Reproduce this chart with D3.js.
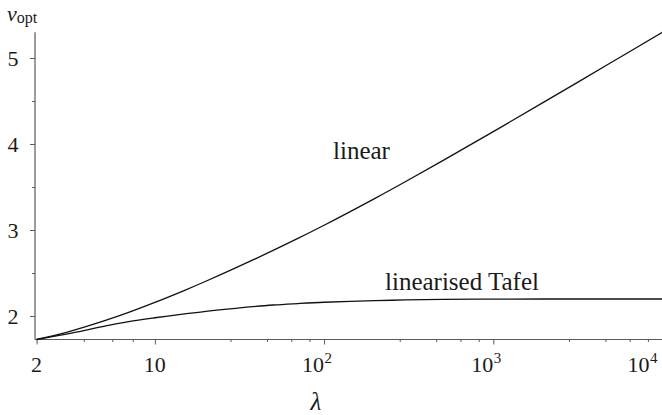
<!DOCTYPE html>
<html>
<head>
<meta charset="utf-8">
<script src="https://cdn.jsdelivr.net/npm/d3@7"></script>
<style>
  body { margin: 0; background: #fff; }
  svg { display: block; }
  text { font-family: "Liberation Serif", "DejaVu Serif", serif; fill: #1a1a1a; }
</style>
</head>
<body>
<svg id="chart" width="662" height="415"></svg>
<script>
// Optimal nu against lambda for the two kinetic models
const lambda   = [2, 3, 5, 7, 10, 15, 20, 30, 50, 70, 100, 200, 300, 500, 1000, 2000, 5000, 10000];
const nuLinear = [1.727, 1.810, 1.943, 2.042, 2.158, 2.299, 2.404, 2.559, 2.763, 2.902, 3.055, 3.368, 3.558, 3.804, 4.144, 4.490, 4.950, 5.300];
const nuTafel  = [1.727, 1.790, 1.880, 1.935, 1.980, 2.025, 2.055, 2.090, 2.128, 2.145, 2.160, 2.178, 2.187, 2.193, 2.197, 2.198, 2.198, 2.198];

const xMajorTicks  = [2, 10, 100, 1000, 10000];
const xTickBases   = ["2", "10", "10", "10", "10"];
const xTickPowers  = ["", "", "2", "3", "4"];
const xMinorTicks  = [3.8, 5.6, 7.4, 28, 46, 64, 82, 280, 460, 640, 820, 2800, 4600, 6400, 8200];
const yMajorTicks  = [2, 3, 4, 5];
const yMinorTicks  = [2.5, 3.5, 4.5];

const W = 662, H = 415;
const axisX = 35, axisY = 339.5;
const svg = d3.select("#chart");

const x = d3.scaleLog().domain([2, 10000]).range([36.6, 662.5]);
const y = d3.scaleLinear().domain([1.727, 5.30]).range([339.5, 32.2]);

const axisColor = "#5a5a5a";

// x axis: major and minor ticks pointing outward
const gx = svg.append("g").attr("transform", `translate(0,${axisY})`);
gx.call(d3.axisBottom(x).tickValues(xMajorTicks).tickSize(5).tickFormat(""));
gx.append("g").call(d3.axisBottom(x).tickValues(xMinorTicks).tickSize(2.5).tickFormat(""));
gx.selectAll(".domain").remove();
gx.selectAll("line").attr("stroke", axisColor).attr("stroke-width", 1);

// y axis
const gy = svg.append("g").attr("transform", `translate(${axisX},0)`);
gy.call(d3.axisLeft(y).tickValues(yMajorTicks).tickSize(5).tickFormat(""));
gy.append("g").call(d3.axisLeft(y).tickValues(yMinorTicks).tickSize(3).tickFormat(""));
gy.selectAll(".domain").remove();
gy.selectAll("line").attr("stroke", axisColor).attr("stroke-width", 1);

// axis lines
svg.append("line").attr("x1", axisX).attr("x2", W).attr("y1", axisY).attr("y2", axisY)
  .attr("stroke", axisColor).attr("stroke-width", 1.2);
svg.append("line").attr("x1", axisX).attr("x2", axisX).attr("y1", y.range()[1]).attr("y2", axisY)
  .attr("stroke", axisColor).attr("stroke-width", 1.2);

// x tick labels (powers of ten as superscripts, last one kept inside the frame)
xMajorTicks.forEach((v, i) => {
  const px = x(v);
  if (!xTickPowers[i]) {
    svg.append("text").attr("x", px).attr("y", 372).attr("text-anchor", "middle")
      .attr("font-size", 22).text(xTickBases[i]);
  } else {
    const sup = svg.append("text").attr("y", 363).attr("font-size", 15).text(xTickPowers[i]);
    const sw = sup.node().getComputedTextLength();
    const bx = Math.min(px, W - 5 - sw);
    sup.attr("x", bx + 0.5);
    svg.append("text").attr("x", bx).attr("y", 372).attr("text-anchor", "end")
      .attr("font-size", 22).text(xTickBases[i]);
  }
});

// y tick labels
yMajorTicks.forEach(v => {
  svg.append("text").attr("x", 18.5).attr("y", y(v) + 7.5).attr("text-anchor", "end")
    .attr("font-size", 22).text(v);
});

// axis titles
svg.append("text").attr("x", 316).attr("y", 410).attr("text-anchor", "middle")
  .attr("font-size", 25).attr("font-style", "italic").text("λ");
const yt = svg.append("text").attr("x", 7).attr("y", 21);
yt.append("tspan").attr("font-size", 22).attr("font-style", "italic").text("ν");
yt.append("tspan").attr("font-size", 16).attr("dy", 2).text("opt");

// curves
const line = d3.line().x(d => x(d[0])).y(d => y(d[1])).curve(d3.curveCatmullRom.alpha(0.5));
[nuLinear, nuTafel].forEach(series => {
  svg.append("path").datum(lambda.map((l, i) => [l, series[i]]))
    .attr("d", line).attr("fill", "none").attr("stroke", "#111").attr("stroke-width", 1.3);
});

// curve labels
svg.append("text").attr("x", 333).attr("y", 159).attr("font-size", 25).text("linear");
svg.append("text").attr("x", 385).attr("y", 290).attr("font-size", 25).text("linearised Tafel");
</script>
</body>
</html>
